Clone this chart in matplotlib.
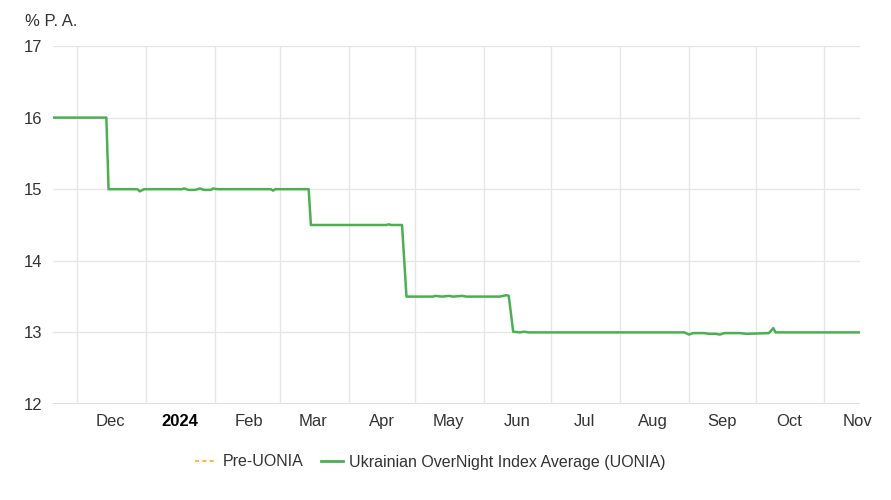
import numpy as np
import pandas as pd
import matplotlib
matplotlib.use('Agg')
import matplotlib.pyplot as plt
import matplotlib.dates as mdates
from matplotlib.lines import Line2D

plt.rcParams['font.family'] = ['Liberation Sans', 'DejaVu Sans']

# UONIA, % p.a.
uonia_dates = ['2023-11-20', '2023-12-14', '2023-12-15', '2023-12-28', '2023-12-29',
               '2023-12-31', '2024-01-17', '2024-01-18', '2024-01-20', '2024-01-23',
               '2024-01-25', '2024-01-27', '2024-01-30', '2024-01-31', '2024-02-02',
               '2024-02-26', '2024-02-27', '2024-02-28', '2024-03-14', '2024-03-15',
               '2024-04-18', '2024-04-19', '2024-04-20', '2024-04-25', '2024-04-27',
               '2024-05-09', '2024-05-10', '2024-05-13', '2024-05-16', '2024-05-18',
               '2024-05-22', '2024-05-24', '2024-06-08', '2024-06-11', '2024-06-12',
               '2024-06-14', '2024-06-17', '2024-06-19', '2024-06-21', '2024-08-30',
               '2024-09-01', '2024-09-03', '2024-09-08', '2024-09-10', '2024-09-13',
               '2024-09-15', '2024-09-17', '2024-09-24', '2024-09-27', '2024-10-07',
               '2024-10-09', '2024-10-10', '2024-11-17']
uonia_values = [16.00, 16.00, 15.00, 15.00, 14.97,
                15.00, 15.00, 15.01, 14.99, 14.99,
                15.01, 14.99, 14.99, 15.01, 15.00,
                15.00, 14.98, 15.00, 15.00, 14.50,
                14.50, 14.51, 14.50, 14.50, 13.50,
                13.50, 13.51, 13.50, 13.51, 13.50,
                13.51, 13.50, 13.50, 13.52, 13.51,
                13.01, 13.00, 13.01, 13.00, 13.00,
                12.97, 12.99, 12.99, 12.98, 12.98,
                12.97, 12.99, 12.99, 12.98, 12.99,
                13.06, 13.00, 13.00]

month_labels = ['Dec', '2024', 'Feb', 'Mar', 'Apr', 'May', 'Jun',
                'Jul', 'Aug', 'Sep', 'Oct', 'Nov']
y_ticks = [12, 13, 14, 15, 16, 17]

x = pd.to_datetime(uonia_dates)

fig = plt.figure(figsize=(8.91, 5.0), dpi=100)
ax = fig.add_axes([53/891, 1-404/500, (860-53)/891, (404-46)/500])

ax.plot(x, uonia_values, color='#4caf50', lw=1.8, solid_joinstyle='round')

ax.set_xlim(pd.Timestamp('2023-11-20'), pd.Timestamp('2024-11-17'))
ax.set_ylim(12, 17)

# gridlines at month starts, labels in the middle of each month
month_starts = pd.date_range('2023-12-01', '2024-11-01', freq='MS')
ax.set_xticks(month_starts)
ax.set_xticklabels([])
ax.set_xticks(month_starts + pd.Timedelta(days=15), minor=True)
ax.set_xticklabels(month_labels, minor=True)
ax.tick_params(axis='x', which='both', length=0)
ax.tick_params(axis='x', which='minor', pad=7, labelsize=12, labelcolor='#333333')
for lab in ax.get_xticklabels(minor=True):
    if lab.get_text() == '2024':
        lab.set_fontweight('bold')
        lab.set_color('black')

ax.set_yticks(y_ticks)
ax.tick_params(axis='y', length=0, pad=8, labelsize=12, labelcolor='#333333')

ax.grid(True, which='major', color='#e6e6e6', lw=1)
ax.set_axisbelow(True)
for s in ax.spines.values():
    s.set_visible(False)
ax.axhline(12, color='#d8d8d8', lw=1.2, zorder=0)

fig.text(25/891, 1-21/500, '% P. A.', fontsize=12, color='#333333', va='center', ha='left')

handles = [Line2D([], [], color='#ffb74d', lw=1.5, ls=(0, (2, 1.5))),
           Line2D([], [], color='#4caf50', lw=2)]
fig.legend(handles, ['Pre-UONIA', 'Ukrainian OverNight Index Average (UONIA)'],
           loc='center', bbox_to_anchor=(430/891, 1-462/500), ncol=2, frameon=False,
           fontsize=11.5, handlelength=1.4, handletextpad=0.35, columnspacing=1.1,
           labelcolor='#333333')

plt.savefig('out.png', dpi=100)
